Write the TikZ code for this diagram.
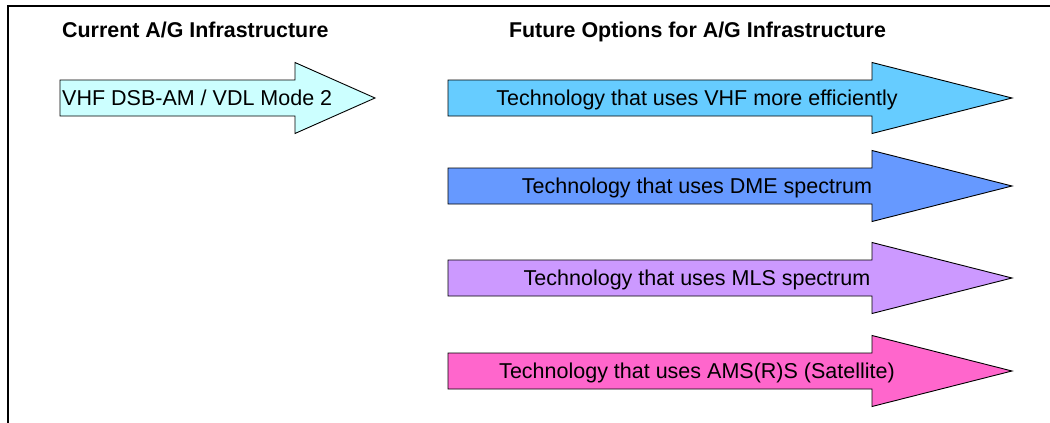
\documentclass[tikz,border=0pt]{standalone}
\usepackage{fontspec}
\setmainfont{Liberation Sans}
\definecolor{arrA}{HTML}{CCFFFF}
\definecolor{arrB}{HTML}{66CCFF}
\definecolor{arrC}{HTML}{6699FF}
\definecolor{arrD}{HTML}{CC99FF}
\definecolor{arrE}{HTML}{FF66CC}
% #1 left x, #2 head start x, #3 tip x, #4 centre y, #5 colour
\newcommand\agarrow[5]{%
  \draw[arrowshape, fill=#5]
    (#1,#4-18) -- (#2,#4-18) -- (#2,#4-35.5) -- (#3,#4) -- (#2,#4+35.5)
    -- (#2,#4+18) -- (#1,#4+18) -- cycle;}
\begin{document}
\begin{tikzpicture}[x=1pt,y=-1pt,
  arrowshape/.style={draw=black, line width=0.9pt, line join=miter},
  title/.style={font=\fontsize{21.4}{24}\selectfont\bfseries, inner sep=0pt},
  label/.style={font=\fontsize{21.5}{24}\selectfont, inner sep=0pt, anchor=base},
  frame/.style={draw=black, line width=2pt}]
\useasboundingbox (0,0) rectangle (1050,423);
\draw[frame] (8,424) -- (8,6) -- (1051,6);
\node[title, anchor=base west] (t1) at (62,37.5) {Current A/G Infrastructure};
\node[title, anchor=base] (t2) at (697.5,37.5) {Future Options for A/G Infrastructure};
\agarrow{60}{295}{375}{98}{arrA}
\agarrow{448}{872}{1012}{98}{arrB}
\agarrow{448}{872}{1012}{186}{arrC}
\agarrow{448}{872}{1012}{278}{arrD}
\agarrow{448}{872}{1012}{371}{arrE}
\node[label, anchor=base west] (a1) at (62,105.7) {VHF DSB-AM / VDL Mode 2};
\node[label] (a2) at (697,105.7) {Technology that uses VHF more efficiently};
\node[label] (a3) at (697,193.7) {Technology that uses DME spectrum};
\node[label] (a4) at (697,285.7) {Technology that uses MLS spectrum};
\node[label] (a5) at (697,378.7) {Technology that uses AMS(R)S (Satellite)};
\end{tikzpicture}
\end{document}
